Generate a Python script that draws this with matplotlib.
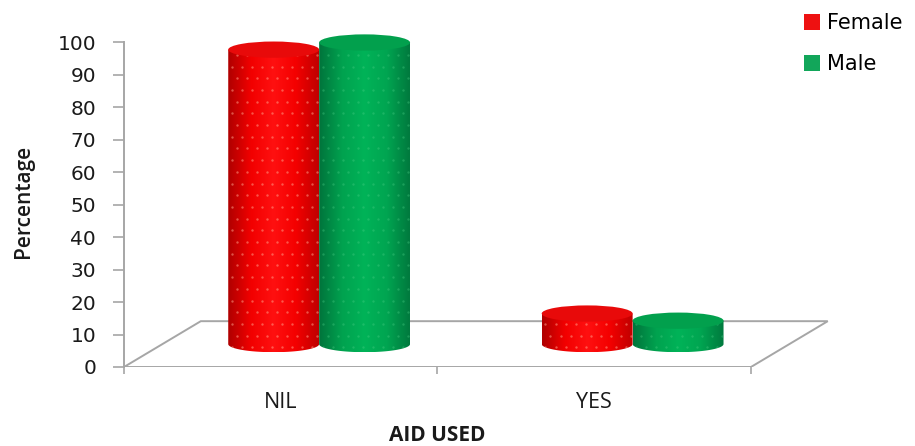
import numpy as np
import matplotlib
matplotlib.use("Agg")
import matplotlib.pyplot as plt
from matplotlib.patches import Ellipse, PathPatch, Patch
from matplotlib.path import Path
from matplotlib.colors import to_rgb

# ---- data -------------------------------------------------------------
categories = ["NIL", "YES"]
series_names = ["Female", "Male"]
female_pct = [90.6, 9.4]
male_pct = [92.8, 7.2]
y_ticks = [0, 10, 20, 30, 40, 50, 60, 70, 80, 90, 100]

# ---- styling / geometry -------------------------------------------------
RED_STOPS = ["#b00000", "#f20000", "#ff1010", "#f40000", "#c00000"]
GREEN_STOPS = ["#00753c", "#00a24f", "#00b358", "#00a551", "#007a3e"]
RED_CAP = "#e80a0a"
GREEN_CAP = "#02a04d"
LEGEND_RED = "#ee1111"
LEGEND_GREEN = "#12a65a"
FLOOR_COLOR = "#a6a6a6"
TEXT_COLOR = "#1a1a1a"

BAR_W = 0.29          # cylinder diameter (category units)
DEPTH_DX = 0.245      # oblique depth shift of the floor, x
DEPTH_DY = 14.1       # oblique depth shift of the floor, y
CAP_RY = 2.5          # half-height of the elliptical caps

fig = plt.figure(figsize=(9.15, 4.46), dpi=100)
ax = fig.add_axes([124 / 915, 79 / 446, 721 / 915, 338 / 446])
XMAX, YMAX = 2.3, 104


def shade(stops, n=64):
    cols = np.array([to_rgb(c) for c in stops])
    pos = np.linspace(0, 1, len(cols))
    t = np.linspace(0, 1, n)
    return np.stack([np.interp(t, pos, cols[:, k]) for k in range(3)], axis=-1)


def cylinder(ax, xc, base, top, stops, cap_color, dot_color, dot_alpha, z):
    w, ry = BAR_W, CAP_RY
    xl, xr = xc - w / 2, xc + w / 2
    th = np.linspace(np.pi, 2 * np.pi, 80)
    bottom = list(zip(xc + w / 2 * np.cos(th), base + ry * np.sin(th)))
    verts = [(xl, top)] + bottom + [(xr, top), (xl, top)]
    codes = [Path.MOVETO] + [Path.LINETO] * (len(verts) - 2) + [Path.CLOSEPOLY]
    body = PathPatch(Path(verts, codes), facecolor="none", edgecolor="none",
                     transform=ax.transData)
    ax.add_patch(body)
    img = shade(stops)[None, :, :]
    im = ax.imshow(img, extent=[xl, xr, base - ry, top], aspect="auto",
                   interpolation="bilinear", zorder=z)
    im.set_clip_path(body)
    # light speckle texture on the surface
    gx = np.arange(xl + 0.012, xr, 0.032)
    gy = np.arange(base - ry + 1.5, top, 3.6)
    px, py = [], []
    for j, yy in enumerate(gy):
        off = 0.016 if j % 2 else 0.0
        for xx in gx:
            px.append(xx + off)
            py.append(yy)
    sc = ax.scatter(px, py, s=3.0, c=dot_color, alpha=dot_alpha, linewidths=0,
                    zorder=z + 0.1)
    sc.set_clip_path(body)
    ax.add_patch(Ellipse((xc, top), w, 2 * ry, facecolor=cap_color,
                         edgecolor="none", zorder=z + 0.2))


# floor (oblique parallelogram)
fx = [0, 2, 2 + DEPTH_DX, DEPTH_DX, 0]
fy = [0, 0, DEPTH_DY, DEPTH_DY, 0]
ax.plot(fx, fy, color=FLOOR_COLOR, lw=1.4, zorder=1, solid_joinstyle="miter")

# cylinders, sitting at mid depth of the floor
z = 3
for i, cat in enumerate(categories):
    xc = i + 0.5 + DEPTH_DX / 2
    base = DEPTH_DY / 2
    cylinder(ax, xc - BAR_W / 2, base, base + female_pct[i], RED_STOPS,
             RED_CAP, "#ffa890", 0.5, z)
    z += 1
    cylinder(ax, xc + BAR_W / 2, base, base + male_pct[i], GREEN_STOPS,
             GREEN_CAP, "#50d088", 0.35, z)
    z += 1

ax.set_xlim(0, XMAX)
ax.set_ylim(0, YMAX)

# axes decoration
for s in ["top", "right", "bottom"]:
    ax.spines[s].set_visible(False)
ax.spines["left"].set_bounds(0, 100)
ax.spines["left"].set_color(FLOOR_COLOR)
ax.spines["left"].set_linewidth(1.4)
ax.set_yticks(y_ticks)
ax.tick_params(axis="y", direction="out", length=8, width=1.2,
               color=FLOOR_COLOR, pad=12, labelsize=14.5, labelcolor=TEXT_COLOR)
for lab in ax.get_yticklabels():
    lab.set_fontfamily("DejaVu Sans")

ax.set_xticks([0, 1, 2])
ax.set_xticklabels(["", "", ""])
ax.tick_params(axis="x", which="major", direction="out", length=5, width=1.2,
               color=FLOOR_COLOR)
ax.set_xticks([0.5, 1.5], minor=True)
ax.set_xticklabels(categories, minor=True, fontsize=15.5,
                   fontfamily="Open Sans", color=TEXT_COLOR)
ax.tick_params(axis="x", which="minor", length=0, pad=18)

ax.text(1.0, -0.172, "AID USED", transform=ax.get_xaxis_transform(),
        ha="center", va="top", fontsize=15, fontweight="bold",
        fontfamily="Open Sans", color=TEXT_COLOR)
fig.text(23 / 915, 1 - 201 / 446, "Percentage", rotation=90, ha="center",
         va="center", fontsize=15, fontweight="semibold",
         fontfamily="Open Sans", color=TEXT_COLOR)

handles = [Patch(facecolor=LEGEND_RED, edgecolor="none"),
           Patch(facecolor=LEGEND_GREEN, edgecolor="none")]
fig.legend(handles, series_names, loc="upper left",
           bbox_to_anchor=(796 / 915, 1 - 5 / 446), frameon=False,
           handlelength=0.75, handleheight=0.75, handletextpad=0.35,
           labelspacing=1.0, borderaxespad=0,
           prop={"family": "DejaVu Sans", "size": 15})

fig.savefig("out.png", dpi=100, facecolor="white")
